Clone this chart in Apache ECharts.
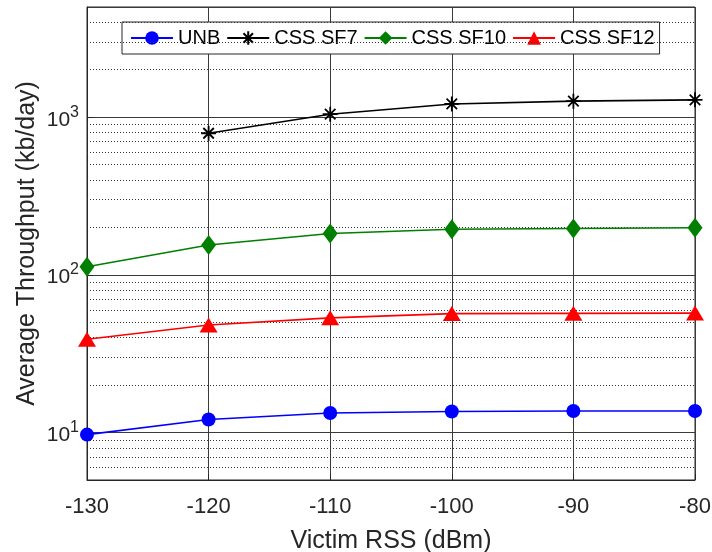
<!DOCTYPE html>
<html>
<head>
<meta charset="utf-8">
<script src="https://cdn.jsdelivr.net/npm/echarts@6/dist/echarts.min.js"></script>
<style>
html,body{margin:0;padding:0;background:#fff;}
#chart{width:712px;height:552px;}
</style>
</head>
<body>
<div id="chart"></div>
<script>
var rss = [-130, -120, -110, -100, -90, -80];
var unb = [9.7, 12.1, 13.3, 13.6, 13.7, 13.7];
var sf7 = [null, 791, 1045, 1214, 1264, 1288];
var sf10 = [112.6, 154.6, 183, 194.5, 197, 199];
var sf12 = [39.1, 48.1, 53.4, 56.8, 57, 57.2];
var seriesNames = ['UNB', 'CSS SF7', 'CSS SF10', 'CSS SF12'];
var minorGridValues = [6, 7, 8, 9, 20, 30, 40, 50, 60, 70, 80, 90, 200, 300, 400, 500, 600, 700, 800, 900, 2000, 3000, 4000];

function pairs(vals) {
  return rss.map(function (x, i) { return [x, vals[i]]; })
            .filter(function (p) { return p[1] != null; });
}

var FONT = '"Liberation Sans", Arial, sans-serif';
var TXT = '#262626';

var chart = echarts.init(document.getElementById('chart'), null, {renderer: 'canvas'});

var asterisk = 'path://M0,-10L0,10M-10,0L10,0M-7,-7L7,7M-7,7L7,-7';

var option = {
  animation: false,
  backgroundColor: '#fff',
  textStyle: {fontFamily: FONT},
  grid: {left: 87, right: 17, top: 7, bottom: 72, show: true, borderColor: TXT, borderWidth: 1,
         containLabel: false, outerBoundsMode: 'none'},
  legend: {
    data: seriesNames,
    left: 122, top: 22,
    orient: 'horizontal',
    itemWidth: 42, itemHeight: 17, itemGap: 6,
    padding: [6, 5, 6, 8],
    borderColor: TXT, borderWidth: 1,
    backgroundColor: '#fff',
    textStyle: {fontSize: 20, color: '#000', fontFamily: FONT}
  },
  xAxis: {
    type: 'value', min: -130, max: -80, interval: 10,
    name: 'Victim RSS (dBm)', nameLocation: 'middle', nameGap: 49, nameMoveOverlap: false,
    nameTextStyle: {fontSize: 25, color: TXT, fontFamily: FONT},
    axisLine: {show: true, lineStyle: {color: TXT, width: 1}},
    axisTick: {show: true, inside: true, length: 6, lineStyle: {color: TXT}},
    axisLabel: {fontSize: 22, color: TXT, margin: 16, fontFamily: FONT},
    splitLine: {show: true, lineStyle: {color: '#3a3a3a', width: 1, type: 'solid'}}
  },
  yAxis: {
    type: 'log', min: 5, max: 5000, logBase: 10,
    name: 'Average Throughput (kb/day)', nameLocation: 'middle', nameGap: 47, nameMoveOverlap: false,
    nameTextStyle: {fontSize: 25, color: TXT, fontFamily: FONT},
    axisLine: {show: true, lineStyle: {color: TXT, width: 1}},
    axisTick: {show: true, inside: true, length: 6, lineStyle: {color: TXT}},
    splitLine: {show: true, lineStyle: {color: '#3a3a3a', width: 1, type: 'solid'}},
    axisLabel: {
      margin: 8, showMinLabel: false, showMaxLabel: false,
      formatter: function (v) {
        var e = Math.log10(v);
        if (Math.abs(e - Math.round(e)) > 1e-6) return '';
        return '{b|10}{s|' + Math.round(e) + '}';
      },
      rich: {
        b: {fontSize: 21, color: TXT, fontFamily: FONT, verticalAlign: 'bottom', lineHeight: 26},
        s: {fontSize: 16, color: TXT, fontFamily: FONT, verticalAlign: 'top', lineHeight: 26}
      }
    }
  },
  series: [
    {
      name: 'UNB', type: 'line', data: pairs(unb),
      symbol: 'circle', symbolSize: 14,
      lineStyle: {color: '#0000ff', width: 1.6},
      itemStyle: {color: '#0000ff'},
      z: 5
    },
    {
      name: 'CSS SF7', type: 'line', data: pairs(sf7),
      symbol: asterisk, symbolSize: 15,
      lineStyle: {color: '#000000', width: 1.6},
      itemStyle: {color: 'rgba(0,0,0,0)', borderColor: '#000000', borderWidth: 1.8},
      z: 5
    },
    {
      name: 'CSS SF10', type: 'line', data: pairs(sf10),
      symbol: 'diamond', symbolSize: [15, 20],
      lineStyle: {color: '#007f00', width: 1.6},
      itemStyle: {color: '#007f00'},
      z: 5
    },
    {
      name: 'CSS SF12', type: 'line', data: pairs(sf12),
      symbol: 'triangle', symbolSize: [18, 15],
      lineStyle: {color: '#ff0000', width: 1.6},
      itemStyle: {color: '#ff0000'},
      z: 5
    },
    {
      name: 'minorGrid', type: 'line', data: [], silent: true, z: 1,
      markLine: {
        silent: true, symbol: 'none', animation: false,
        label: {show: false},
        lineStyle: {color: '#333', width: 1, type: [1, 2]},
        data: minorGridValues.map(function (v) { return {yAxis: v}; })
      }
    }
  ]
};
chart.setOption(option);
</script>
</body>
</html>
